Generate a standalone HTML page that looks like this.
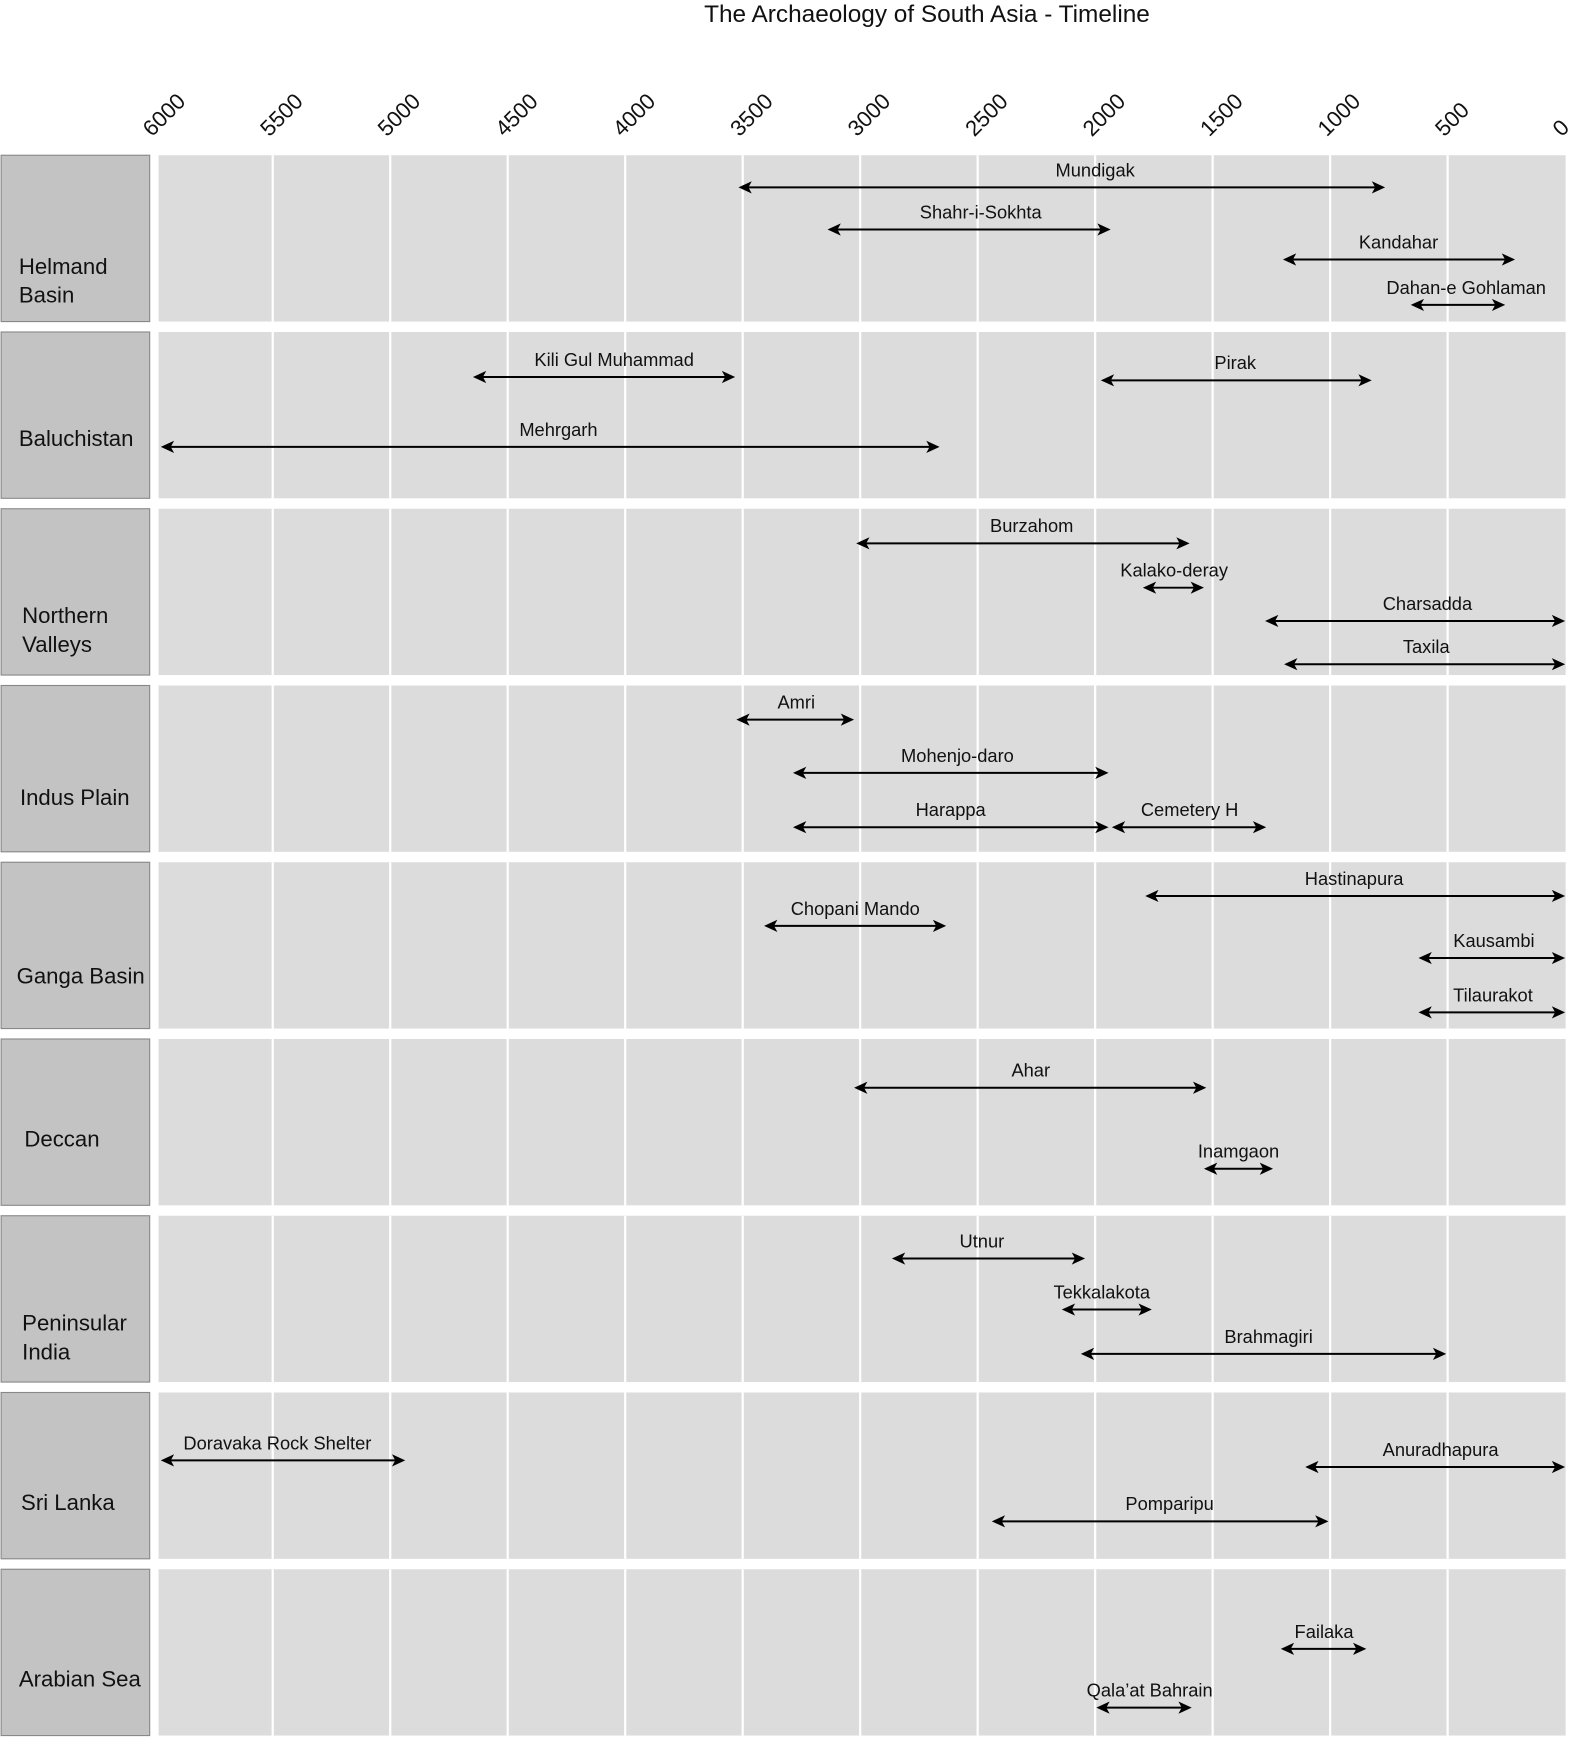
<!DOCTYPE html>
<html><head><meta charset="utf-8"><style>
html,body{margin:0;padding:0;background:#fff;}
svg{display:block;font-family:"Liberation Sans",sans-serif;}
</style></head><body>
<svg id="chart" width="1569" height="1739" viewBox="0 0 1415 1568.3" preserveAspectRatio="none" xmlns="http://www.w3.org/2000/svg">
<text x="836" y="20" text-anchor="middle" font-size="22" fill="#111">The Archaeology of South Asia - Timeline</text>
<g id="grid"></g><g id="marks"></g>
</svg>
<script>
const regions=["Helmand\nBasin","Baluchistan","Northern\nValleys","Indus Plain","Ganga Basin","Deccan","Peninsular\nIndia","Sri Lanka","Arabian Sea"];
const ticks=[6000,5500,5000,4500,4000,3500,3000,2500,2000,1500,1000,500,0];
const siteNames=["Mundigak","Shahr-i-Sokhta","Kandahar","Dahan-e Gohlaman","Kili Gul Muhammad","Pirak","Mehrgarh","Burzahom","Kalako-deray","Charsadda","Taxila","Amri","Mohenjo-daro","Harappa","Cemetery H","Hastinapura","Chopani Mando","Kausambi","Tilaurakot","Ahar","Inamgaon","Utnur","Tekkalakota","Brahmagiri","Doravaka Rock Shelter","Anuradhapura","Pomparipu","Failaka","Qala’at Bahrain"];
const siteRegion=[0,0,0,0,1,1,1,2,2,2,2,3,3,3,3,4,4,4,4,5,5,6,6,6,7,7,7,8,8];
const siteStart=[3518,3139,1201,657,4648,1976,5986,3017,1797,1277,1196,3527,3286,3286,1929,1787,3409,624,624,3026,1537,2865,2142,2061,5991,1106,2440,1210,1995];
const siteEnd=[766,1934,213,255,3532,823,2662,1598,1537,0,0,3026,1943,1943,1272,0,2634,0,0,1527,1243,2043,1759,506,4936,0,1007,846,1589];
const labelAt=[2000,2487,709,421,4047,1404,4284,2270,1664,586,591,3272,2586,2615,1598,898,3021,303,307,2274,1390,2482,1972,1262,5480,530,1683,1026,1768];
const arrowY=[169,207,234,275,340,343,403,490,530,560,599,649,697,746,746,808,835,864,913,981,1054,1135,1181,1221,1317,1323,1372,1487,1540];

const NS="http://www.w3.org/2000/svg";
const X0=140,X1=1411.5;
const PL=143,PR=1412;
const xs=v=>X0+(6000-v)/6000*(X1-X0);
const rowTop=i=>140+i*159.4, rowH=150;
const grid=document.getElementById('grid'), marks=document.getElementById('marks');
function mk(tag,attrs,parent){const e=document.createElementNS(NS,tag);for(const k in attrs)e.setAttribute(k,attrs[k]);parent.appendChild(e);return e;}

regions.forEach((r,i)=>{
  const t=rowTop(i);
  const box=mk('rect',{x:1,y:t,width:134,height:rowH,fill:'#c3c3c3',stroke:'#888','stroke-width':1},grid);
  
  
  const bg=mk('rect',{x:PL,y:t,width:PR-PL,height:rowH,fill:'#dcdcdc'},grid);
  
  
  const lines=r.split('\n');
  const lx=[17,17,20,18,15,22,20,19,17][i];
  const cy=[253,395,568,719,880,1027,1206,1355,1514][i];
  lines.forEach((ln,j)=>{
    const tx=mk('text',{x:lx,y:cy-(lines.length-1)*13+j*26+7,'font-size':20,fill:'#111'},grid);
    tx.textContent=ln;
    
    
  });
});
ticks.forEach((v,k)=>{
  const x=xs(v);
  if(k>0&&k<ticks.length-1){
    regions.forEach((r,i)=>{
      const gl=mk('line',{x1:x,x2:x,y1:rowTop(i),y2:rowTop(i)+rowH,stroke:'#fff','stroke-width':2},grid);
      
      
    });
  }
  const tx=mk('text',{x:x-3,y:124,'font-size':20,fill:'#111',transform:`rotate(-45 ${x-3} 124)`},grid);
  tx.textContent=String(v);
  
  
});
function head(x,y,dir){
  const L=12,W=5.5,n=3;
  return `M${x},${y} L${x-dir*L},${y-W} L${x-dir*(L-n)},${y} L${x-dir*L},${y+W} Z`;
}
siteNames.forEach((s,i)=>{
  const y=arrowY[i], a=Math.max(PL+2,xs(siteStart[i])), b=Math.min(PR,xs(siteEnd[i]));
  const g=mk('g',{},marks);
  
  
  mk('line',{x1:a+8,x2:b-8,y1:y,y2:y,stroke:'#000','stroke-width':1.8},g);
  mk('path',{d:head(a,y,-1),fill:'#000'},g);
  mk('path',{d:head(b,y,1),fill:'#000'},g);
  const tx=mk('text',{x:xs(labelAt[i]),y:y-10,'text-anchor':'middle','font-size':16.5,fill:'#111'},g);
  tx.textContent=s;
  
  
});
</script>
</body></html>
